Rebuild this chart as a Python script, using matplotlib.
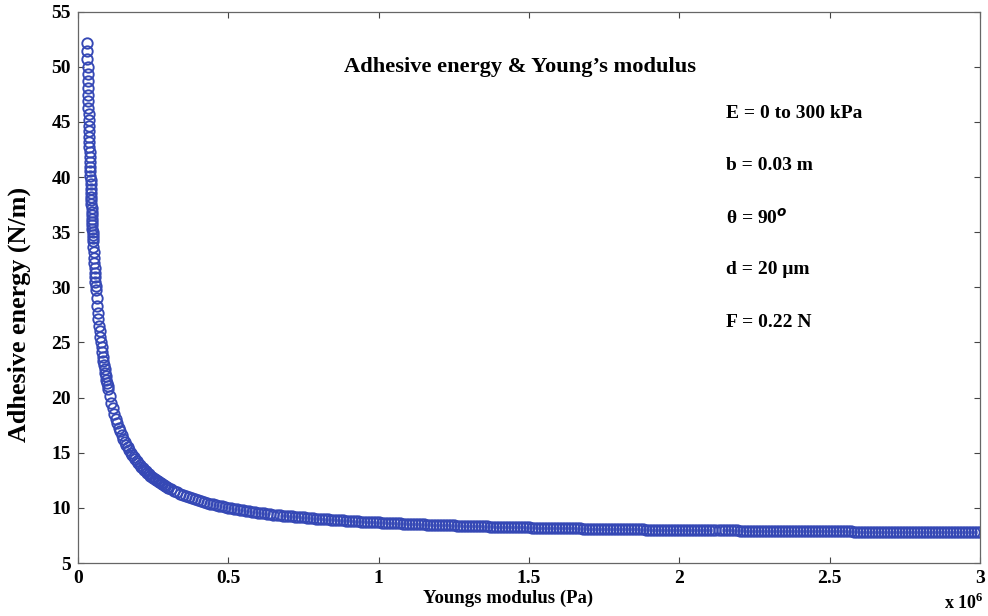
import numpy as np
import matplotlib.pyplot as plt
from matplotlib.ticker import FuncFormatter

# Young's modulus sampling grid (kPa)
E_steep = np.arange(30, 50.5, 0.5)
E_mid1 = np.arange(51, 61, 1)
E_mid2 = np.arange(62, 101, 2)
E_knee = np.arange(105, 301, 5)
E_tail = np.arange(310, 3001, 10)

# adhesive energy (N/m)
G_steep = [52.13, 51.40, 50.69, 50.00, 49.33, 48.69, 48.06, 47.45, 46.86, 46.29,
           45.73, 45.19, 44.67, 44.16, 43.66, 43.17, 42.70, 42.24, 41.79, 41.36,
           40.93, 40.52, 40.11, 39.72, 39.33, 38.96, 38.59, 38.23, 37.88, 37.54,
           37.20, 36.87, 36.55, 36.24, 35.93, 35.63, 35.33, 35.04, 34.76, 34.49,
           34.21]
G_mid1 = [33.69, 33.18, 32.69, 32.22, 31.77, 31.33, 30.91, 30.51, 30.11, 29.73]
G_mid2 = [29.01, 28.33, 27.70, 27.10, 26.53, 26.00, 25.50, 25.02, 24.56, 24.13,
          23.72, 23.33, 22.96, 22.61, 22.27, 21.94, 21.63, 21.33, 21.05, 20.77]
G_knee = [20.13, 19.55, 19.02, 18.53, 18.09, 17.67, 17.29, 16.93, 16.60, 16.29,
          16.00, 15.73, 15.48, 15.24, 15.01, 14.80, 14.60, 14.41, 14.23, 14.05,
          13.89, 13.73, 13.58, 13.44, 13.31, 13.18, 13.05, 12.93, 12.82, 12.71,
          12.60, 12.50, 12.41, 12.31, 12.22, 12.13, 12.05, 11.97, 11.89, 11.81]
G_tail = [11.67, 11.53, 11.41, 11.29, 11.17, 11.07, 10.97, 10.87, 10.78, 10.69,
          10.61, 10.53, 10.46, 10.39, 10.32, 10.25, 10.19, 10.13, 10.08, 10.02,
          9.97, 9.92, 9.87, 9.82, 9.78, 9.73, 9.69, 9.65, 9.61, 9.57,
          9.54, 9.50, 9.47, 9.43, 9.40, 9.37, 9.34, 9.31, 9.28, 9.25,
          9.23, 9.20, 9.17, 9.15, 9.13, 9.10, 9.08, 9.06, 9.03, 9.01,
          8.99, 8.97, 8.95, 8.93, 8.91, 8.90, 8.88, 8.86, 8.84, 8.83,
          8.81, 8.79, 8.78, 8.76, 8.75, 8.73, 8.72, 8.70, 8.69, 8.68,
          8.66, 8.65, 8.64, 8.63, 8.61, 8.60, 8.59, 8.58, 8.57, 8.55,
          8.54, 8.53, 8.52, 8.51, 8.50, 8.49, 8.48, 8.47, 8.46, 8.45,
          8.44, 8.43, 8.43, 8.42, 8.41, 8.40, 8.39, 8.38, 8.37, 8.37,
          8.36, 8.35, 8.34, 8.34, 8.33, 8.32, 8.31, 8.31, 8.30, 8.29,
          8.29, 8.28, 8.27, 8.27, 8.26, 8.25, 8.25, 8.24, 8.24, 8.23,
          8.22, 8.22, 8.21, 8.21, 8.20, 8.19, 8.19, 8.18, 8.18, 8.17,
          8.17, 8.16, 8.16, 8.15, 8.15, 8.14, 8.14, 8.13, 8.13, 8.12,
          8.12, 8.11, 8.11, 8.11, 8.10, 8.10, 8.09, 8.09, 8.08, 8.08,
          8.08, 8.07, 8.07, 8.06, 8.06, 8.06, 8.05, 8.05, 8.04, 8.04,
          8.04, 8.03, 8.03, 8.03, 8.02, 8.02, 8.02, 8.01, 8.01, 8.01,
          8.00, 8.00, 8.00, 7.99, 7.99, 7.99, 7.98, 7.98, 7.98, 7.97,
          7.97, 7.97, 7.96, 7.96, 7.96, 7.96, 7.95, 7.95, 7.95, 7.94,
          7.94, 7.94, 7.94, 7.93, 7.93, 7.93, 7.93, 7.92, 7.92, 7.92,
          7.92, 7.91, 7.91, 7.91, 7.91, 7.90, 7.90, 7.90, 7.90, 7.89,
          7.89, 7.89, 7.89, 7.88, 7.88, 7.88, 7.88, 7.87, 7.87, 7.87,
          7.87, 7.87, 7.86, 7.86, 7.86, 7.86, 7.86, 7.85, 7.85, 7.85,
          7.85, 7.85, 7.84, 7.84, 7.84, 7.84, 7.84, 7.83, 7.83, 7.83,
          7.83, 7.83, 7.83, 7.82, 7.82, 7.82, 7.82, 7.82, 7.81, 7.81,
          7.81, 7.81, 7.81, 7.81, 7.80, 7.80, 7.80, 7.80, 7.80, 7.80,
          7.79, 7.79, 7.79, 7.79, 7.79, 7.79, 7.79, 7.78, 7.78, 7.78]

params = ['E = 0 to 300 kPa', 'b = 0.03 m', 'θ = 90$^{o}$', 'd = 20 μm', 'F = 0.22 N']

E = np.concatenate([E_steep, E_mid1, E_mid2, E_knee, E_tail]) * 1e3
G = np.concatenate([G_steep, G_mid1, G_mid2, G_knee, G_tail])

plt.rcParams['font.family'] = ['Liberation Serif', 'DejaVu Serif']
plt.rcParams['font.weight'] = 'bold'
plt.rcParams['mathtext.fontset'] = 'custom'
plt.rcParams['mathtext.rm'] = 'Liberation Serif:bold'

fig = plt.figure(figsize=(9.88, 6.16), dpi=100)
ax = fig.add_axes([0.079, 0.086, 0.913, 0.895])

ax.plot(E, G, 'o', mfc='none', mec='#3548b5', ms=7.5, mew=1.35)

ax.set_xlim(0, 3e6)
ax.set_ylim(5, 55)
ax.set_xticks(np.arange(0, 3.01e6, 0.5e6))
ax.set_yticks(np.arange(5, 56, 5))
ax.xaxis.set_major_formatter(FuncFormatter(lambda v, p: f'{v / 1e6:g}'))
ax.tick_params(direction='in', length=4, width=0.8, color='#444444',
               top=True, right=True, labelsize=14, pad=5)
for s in ax.spines.values():
    s.set_color('#666666')
    s.set_linewidth(0.9)

ax.set_xlabel('Youngs modulus (Pa)', fontsize=13.5, fontweight='bold')
ax.xaxis.set_label_coords(0.477, -0.048)
ax.set_ylabel('Adhesive energy (N/m)', fontsize=18.8, fontweight='bold')
ax.yaxis.set_label_coords(-0.052, 0.45)

fig.text(0.955, 0.012, 'x 10$^{6}$', fontsize=13, fontweight='bold')

ax.text(0.49, 0.9, "Adhesive energy & Young’s modulus", transform=ax.transAxes,
        ha='center', va='center', fontsize=16.2, fontweight='bold')
for i, t in enumerate(params):
    ax.text(0.718, 0.815 - i * 0.0945, t, transform=ax.transAxes,
            ha='left', va='center', fontsize=14, fontweight='bold')

fig.savefig('out.png', dpi=100)
